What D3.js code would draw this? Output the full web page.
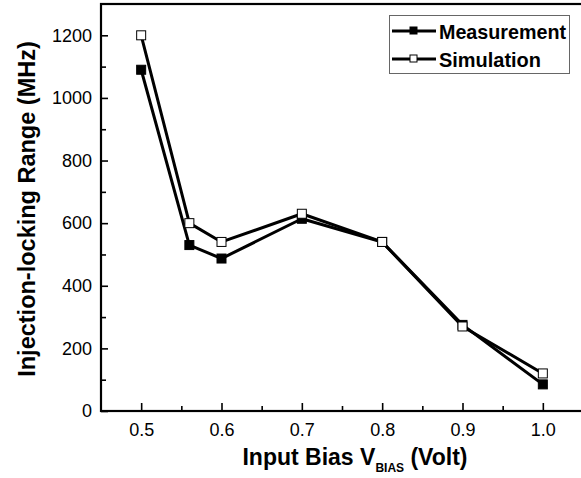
<!DOCTYPE html>
<html>
<head>
<meta charset="utf-8">
<script src="https://cdn.jsdelivr.net/npm/d3@7"></script>
<style>
  body { margin: 0; background: #fff; }
  svg { display: block; font-family: Arial, "Liberation Sans", sans-serif; }
</style>
</head>
<body>
<div id="chart"></div>
<script>
// values
var biasVolts = [0.5, 0.56, 0.6, 0.7, 0.8, 0.9, 1.0];
var measurement = [1090, 530, 487, 614, 540, 275, 85];
var simulation = [1200, 600, 540, 630, 540, 270, 120];
var xTicks = [0.5, 0.6, 0.7, 0.8, 0.9, 1.0];
var yTicks = [0, 200, 400, 600, 800, 1000, 1200];

var width = 581, height = 478;
var margin = {top: 4, right: 0, bottom: 67, left: 101};

var svg = d3.select("#chart").append("svg")
  .attr("width", width)
  .attr("height", height);

// right edge of the frame sits just past the picture
var x = d3.scaleLinear().domain([0.45, 1.05]).range([margin.left, margin.left + 482]);
var y = d3.scaleLinear().domain([0, 1300]).range([height - margin.bottom, margin.top]);

svg.append("rect")
  .attr("x", x(0.45)).attr("y", y(1300))
  .attr("width", x(1.05) - x(0.45)).attr("height", y(0) - y(1300))
  .attr("fill", "none").attr("stroke", "#000").attr("stroke-width", 2.2);

// y axis: major ticks with labels, minor ticks in between, all pointing inward
var yAxis = d3.axisLeft(y).tickValues(yTicks).tickSize(-7).tickPadding(9).tickFormat(d3.format("d"));
var gy = svg.append("g").attr("transform", "translate(" + x(0.45) + ",0)").call(yAxis);
gy.select(".domain").remove();
gy.selectAll(".tick line").attr("stroke-width", 1.6);
gy.selectAll("text").style("font-size", "18px").attr("fill", "#000");
var yMinor = d3.axisLeft(y).tickValues(d3.range(100, 1300, 200)).tickSize(-5).tickFormat("");
var gym = svg.append("g").attr("transform", "translate(" + x(0.45) + ",0)").call(yMinor);
gym.select(".domain").remove();
gym.selectAll(".tick line").attr("stroke-width", 1.6);

// x axis
var xAxis = d3.axisBottom(x).tickValues(xTicks).tickSize(-8).tickPadding(12).tickFormat(d3.format(".1f"));
var gx = svg.append("g").attr("transform", "translate(0," + y(0) + ")").call(xAxis);
gx.select(".domain").remove();
gx.selectAll(".tick line").attr("stroke-width", 1.6);
gx.selectAll("text").style("font-size", "18px").attr("fill", "#000");
var xMinor = d3.axisBottom(x).tickValues([0.55, 0.65, 0.75, 0.85, 0.95]).tickSize(-5).tickFormat("");
var gxm = svg.append("g").attr("transform", "translate(0," + y(0) + ")").call(xMinor);
gxm.select(".domain").remove();
gxm.selectAll(".tick line").attr("stroke-width", 1.6);

// axis titles
var xt = svg.append("text")
  .attr("x", 355).attr("y", 465)
  .attr("text-anchor", "middle")
  .style("font-size", "23px").style("font-weight", "bold");
xt.append("tspan").text("Input Bias V");
xt.append("tspan").attr("dy", 7).style("font-size", "12px").text("BIAS");
xt.append("tspan").attr("dy", -7).text(" (Volt)");

svg.append("text")
  .attr("transform", "translate(35," + 209 + ") rotate(-90)")
  .attr("text-anchor", "middle")
  .style("font-size", "23.5px").style("font-weight", "bold")
  .text("Injection-locking Range (MHz)");

// series
var series = [
  {name: "Measurement", values: measurement, fill: "#000", w: 127},
  {name: "Simulation", values: simulation, fill: "#fff", w: 102}
];

var line = d3.line()
  .x(function(d, i) { return x(biasVolts[i]); })
  .y(function(d) { return y(d); });

var ms = 9;
series.forEach(function(s) {
  svg.append("path")
    .attr("d", line(s.values))
    .attr("fill", "none")
    .attr("stroke", "#000")
    .attr("stroke-width", 3)
    .attr("stroke-linejoin", "round");
  svg.selectAll(null)
    .data(s.values)
    .enter().append("rect")
    .attr("x", function(d, i) { return x(biasVolts[i]) - ms / 2; })
    .attr("y", function(d) { return y(d) - ms / 2; })
    .attr("width", ms).attr("height", ms)
    .attr("fill", s.fill)
    .attr("stroke", "#000")
    .attr("stroke-width", 1);
});

// legend
var lg = svg.append("g").attr("transform", "translate(389,15)");
lg.append("rect")
  .attr("x", 0.5).attr("y", 0.5)
  .attr("width", 180).attr("height", 58)
  .attr("fill", "#fff").attr("stroke", "#666").attr("stroke-width", 1);
series.forEach(function(s, i) {
  var row = lg.append("g").attr("transform", "translate(0," + (16 + i * 28) + ")");
  row.append("line")
    .attr("x1", 3).attr("x2", 47).attr("y1", 0).attr("y2", 0)
    .attr("stroke", "#000").attr("stroke-width", 3);
  row.append("rect")
    .attr("x", 25 - 4).attr("y", -4).attr("width", 7).attr("height", 7)
    .attr("fill", s.fill).attr("stroke", "#000").attr("stroke-width", 1);
  row.append("text")
    .attr("x", 50).attr("y", 8)
    .attr("textLength", s.w).attr("lengthAdjust", "spacingAndGlyphs")
    .style("font-size", "21px").style("font-weight", "bold")
    .text(s.name);
});
</script>
</body>
</html>
